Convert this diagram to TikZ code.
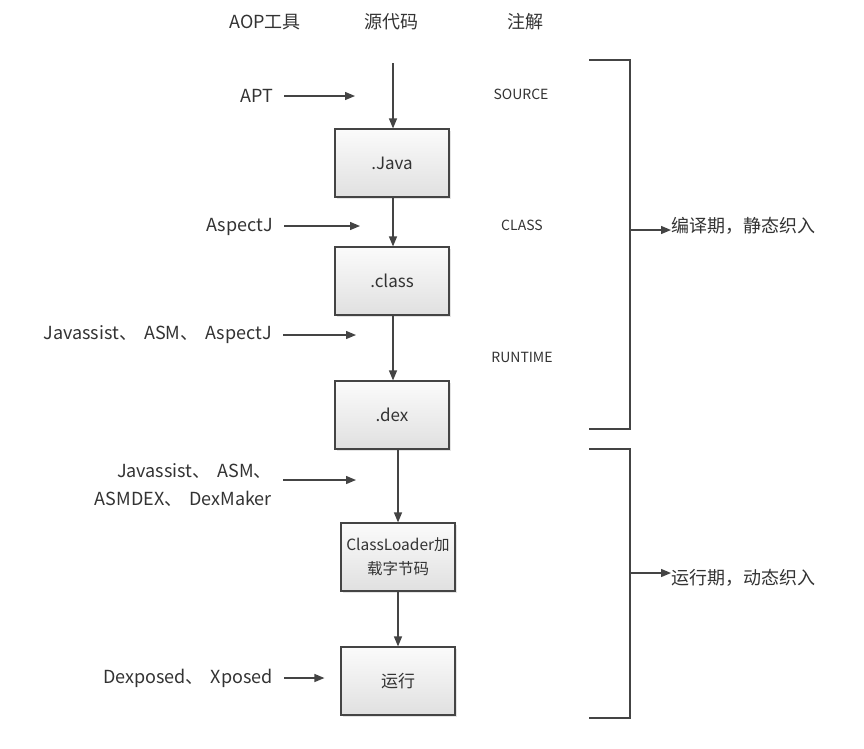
\documentclass[tikz,border=0pt]{standalone}
\usepackage{fontspec}
\setmainfont{Noto Sans CJK SC}
\usetikzlibrary{arrows.meta,shadows}
\definecolor{txt}{HTML}{333333}
\definecolor{ln}{HTML}{444444}
\definecolor{boxtop}{HTML}{FBFBFB}
\definecolor{boxbot}{HTML}{E0E0E0}
\newcommand{\dun}{、\kern7pt}
\tikzset{
  stagebox/.style={draw=ln, line width=1.2pt, minimum width=114pt, minimum height=68pt,
    top color=boxtop, bottom color=boxbot, text=txt, font=\fontsize{17}{20}\selectfont,
    drop shadow={shadow xshift=2pt, shadow yshift=-2pt, fill=gray!35, opacity=0.6}},
  arr/.style={draw=ln, line width=1.3pt, -{Triangle[length=10pt,width=8pt]}},
  brk/.style={draw=ln, line width=1.3pt},
  tool/.style={text=txt, font=\fontsize{18}{28}\selectfont, inner sep=0pt, anchor=east},
  head/.style={text=txt, font=\fontsize{18}{22}\selectfont, inner sep=0pt},
  ann/.style={text=txt, font=\fontsize{14}{17}\selectfont, inner sep=0pt},
  phase/.style={text=txt, font=\fontsize{18}{22}\selectfont, inner sep=0pt, anchor=west}
}
\begin{document}
\begin{tikzpicture}[x=1pt,y=-1pt]
\useasboundingbox[fill=white] (0,0) rectangle (864,748);

% headers
\node[head] (h1) at (265,22) {AOP工具};
\node[head] (h2) at (391,22) {源代码};
\node[head] (h3) at (525,22) {注解};

% stage boxes
\node[stagebox] (java) at (392,163) {.Java};
\node[stagebox] (cls) at (392,281) {.class};
\node[stagebox] (dex) at (392,415) {.dex};
\node[stagebox, align=center, font=\fontsize{15.5}{24}\selectfont] (cl) at (398,557) {ClassLoader加\\载字节码};
\node[stagebox] (run) at (398,681) {运行};

% main flow
\coordinate (src) at (393,63);
\draw[arr] (src) -- (src |- java.north);
\draw[arr] (java.south -| src) -- (cls.north -| src);
\draw[arr] (cls.south -| src) -- (dex.north -| src);
\draw[arr] (dex.south -| cl.north) -- (cl.north);
\draw[arr] (cl.south) -- (run.north);

% annotations
\node[ann] (a1) at (521,94) {SOURCE};
\node[ann] (a2) at (522,225) {CLASS};
\node[ann] (a3) at (522,357) {RUNTIME};

% tools
\node[tool] (t1) at (273,96) {APT};
\coordinate (e1) at (355,96);
\draw[arr, shorten <=11pt] (t1.east) -- (e1);

\node[tool] (t2) at (273,227) {AspectJ};
\coordinate (e2) at (360,226);
\draw[arr, shorten <=11pt] (t2.east |- e2) -- (e2);

\node[tool] (t3) at (272,335) {Javassist\dun ASM\dun AspectJ};
\coordinate (e3) at (356,335);
\draw[arr, shorten <=11pt] (t3.east |- e3) -- (e3);

\node[tool, align=right] (t4) at (272,485) {Javassist\dun ASM、\\ASMDEX\dun DexMaker};
\coordinate (e4) at (356,480);
\draw[arr, shorten <=11pt] (t4.east |- e4) -- (e4);

\node[tool] (t5) at (273,678) {Dexposed\dun Xposed};
\draw[arr, shorten <=11pt, shorten >=16pt] (t5.east) -- (t5.east -| run.west);

% brackets
\coordinate (b1t) at (589,60);
\coordinate (b1b) at (589,429);
\draw[brk] (b1t) -- (630,60) -- (630,429) -- (b1b);
\node[phase] (p1) at (671,226) {编译期，静态织入};
\draw[arr] (630,230) -- (p1.west |- 0,230);

\coordinate (b2t) at (589,449);
\coordinate (b2b) at (589,718);
\draw[brk] (b2t) -- (630,449) -- (630,718) -- (b2b);
\node[phase] (p2) at (671,578) {运行期，动态织入};
\draw[arr] (630,573) -- (p2.west |- 0,573);
\end{tikzpicture}
\end{document}
